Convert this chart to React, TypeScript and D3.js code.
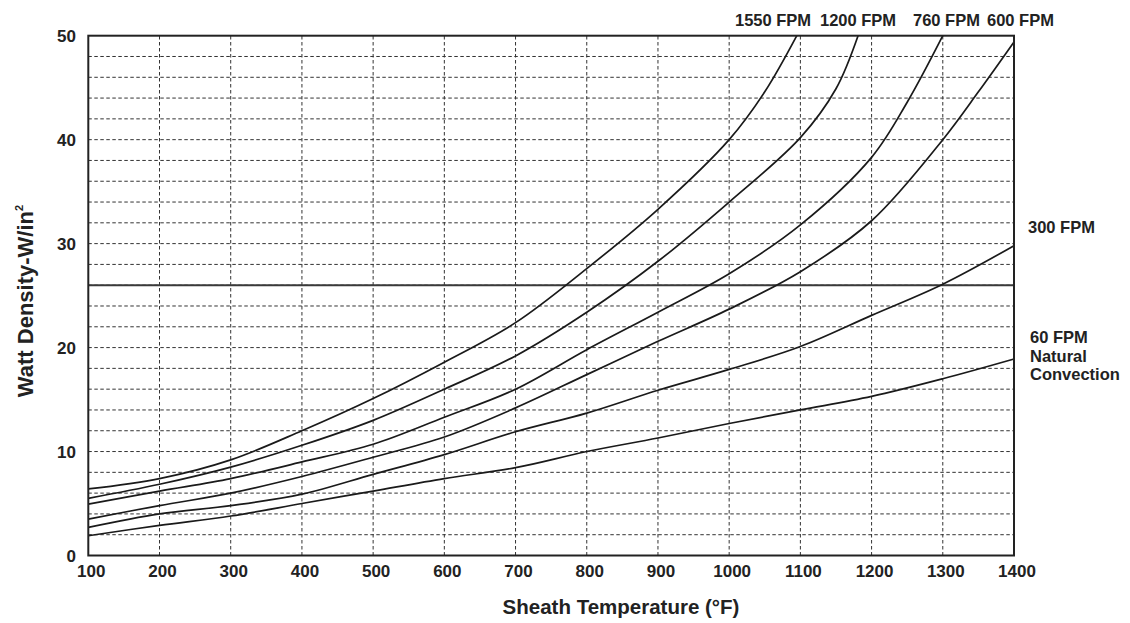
import { scaleLinear, line, curveCatmullRom, range } from 'd3'

// Sheath temperature (°F) vs watt density (W/in²) for each air velocity
const fpm1550 = [
  [100, 6.4], [200, 7.4], [300, 9.2], [400, 12.0], [500, 15.1], [600, 18.6], [700, 22.4],
  [800, 27.6], [900, 33.3], [1000, 40.0], [1050, 44.6], [1095, 50.0],
]
const fpm1200 = [
  [100, 5.5], [200, 6.85], [300, 8.5], [400, 10.6], [500, 13.0], [600, 16.0], [700, 19.2],
  [800, 23.4], [900, 28.3], [1000, 34.0], [1100, 40.2], [1150, 44.9], [1181, 50.0],
]
const fpm760 = [
  [100, 4.95], [200, 6.2], [300, 7.4], [400, 9.0], [500, 10.7], [600, 13.3], [700, 16.0],
  [800, 19.8], [900, 23.4], [1000, 27.1], [1100, 31.8], [1200, 38.3], [1250, 43.6],
  [1300, 50.0],
]
const fpm600 = [
  [100, 3.5], [200, 4.8], [300, 6.0], [400, 7.6], [500, 9.45], [600, 11.4], [700, 14.2],
  [800, 17.4], [900, 20.6], [1000, 23.7], [1100, 27.3], [1200, 32.2], [1300, 40.0],
  [1350, 44.6], [1400, 49.4],
]
const fpm300 = [
  [100, 2.7], [200, 4.0], [300, 4.8], [400, 5.9], [500, 7.8], [600, 9.7], [700, 11.9],
  [800, 13.7], [900, 15.9], [1000, 17.9], [1100, 20.1], [1200, 23.1], [1300, 26.1], [1400, 29.8],
]
const fpm60 = [
  [100, 1.9], [200, 2.9], [300, 3.8], [400, 5.0], [500, 6.2], [600, 7.4], [700, 8.45],
  [800, 10.0], [900, 11.3], [1000, 12.7], [1100, 14.0], [1200, 15.3], [1300, 17.0], [1400, 18.9],
]
const series = [fpm1550, fpm1200, fpm760, fpm600, fpm300, fpm60]

const limitLine = 26
const xTicks = range(100, 1401, 100)
const yTicks = [0, 10, 20, 30, 40, 50]
const yGrid = range(2, 50, 2)
const xGrid = range(200, 1400, 100)

const topLabels = [
  { text: '1550 FPM', x: 735 },
  { text: '1200 FPM', x: 820 },
  { text: '760 FPM', x: 913 },
  { text: '600 FPM', x: 987 },
]

const font = '"Liberation Sans", Arial, Helvetica, sans-serif'

export default function App() {
  const width = 1130
  const height = 623
  const x = scaleLinear().domain([100, 1400]).range([88.3, 1014])
  const y = scaleLinear().domain([0, 50]).range([555.5, 35.7])
  const path = line<number[]>()
    .x((d) => x(d[0]))
    .y((d) => y(d[1]))
    .curve(curveCatmullRom.alpha(0.5))

  return (
    <svg
      width={width}
      height={height}
      viewBox={`0 0 ${width} ${height}`}
      style={{ position: 'absolute', left: 0, top: 0, background: '#fff' }}
      fontFamily={font}
      fontWeight="bold"
    >
      {yGrid.map((v) => (
        <line
          key={`h-${v}`}
          x1={x(100)}
          x2={x(1400)}
          y1={y(v)}
          y2={y(v)}
          stroke="#333"
          strokeWidth={1}
          strokeDasharray="3.5 2.5"
        />
      ))}
      {xGrid.map((v) => (
        <line
          key={`v-${v}`}
          x1={x(v)}
          x2={x(v)}
          y1={y(0)}
          y2={y(50)}
          stroke="#333"
          strokeWidth={1}
          strokeDasharray="3.5 2.5"
        />
      ))}
      <line
        x1={x(100)}
        x2={x(1400)}
        y1={y(limitLine)}
        y2={y(limitLine)}
        stroke="#3a3a3a"
        strokeWidth={2}
      />
      {series.map((s, i) => (
        <path key={i} d={path(s) ?? ''} fill="none" stroke="#1a1a1a" strokeWidth={1.7} />
      ))}
      <rect
        x={x(100)}
        y={y(50)}
        width={x(1400) - x(100)}
        height={y(0) - y(50)}
        fill="none"
        stroke="#222"
        strokeWidth={2}
      />
      {yTicks.map((v) => (
        <text key={`yt-${v}`} x={76} y={y(v) + 6} textAnchor="end" fontSize={17} fill="#222">
          {v}
        </text>
      ))}
      {xTicks.map((v) => (
        <text key={`xt-${v}`} x={x(v) + 3} y={577} textAnchor="middle" fontSize={17} fill="#222">
          {v}
        </text>
      ))}
      {topLabels.map((l) => (
        <text key={l.text} x={l.x} y={26} fontSize={16.5} fill="#222">
          {l.text}
        </text>
      ))}
      <text x={1028} y={233} fontSize={16.5} fill="#222">300 FPM</text>
      <text x={1030} y={343} fontSize={16.5} fill="#222">60 FPM</text>
      <text x={1030} y={362} fontSize={16.5} fill="#222">Natural</text>
      <text x={1030} y={380} fontSize={16.5} fill="#222">Convection</text>
      <text x={621} y={614} textAnchor="middle" fontSize={20.5} fill="#222">
        Sheath Temperature (°F)
      </text>
      <text
        transform={`translate(33, 301) rotate(-90)`}
        textAnchor="middle"
        fontSize={22}
        fill="#222"
      >
        Watt Density-W/in<tspan fontSize={11} dy={-10}>2</tspan>
      </text>
    </svg>
  )
}
